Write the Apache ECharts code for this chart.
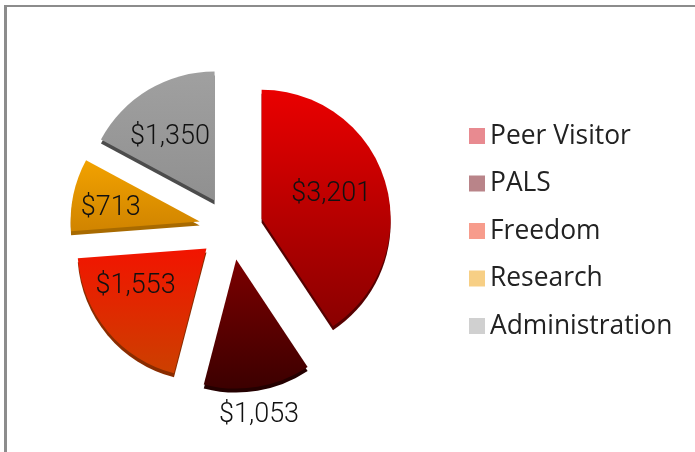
<!DOCTYPE html>
<html><head><meta charset="utf-8">
<style>html,body{margin:0;padding:0;background:#fff}#c{width:695px;height:452px}</style>
<script src="https://cdn.jsdelivr.net/npm/echarts@6/dist/echarts.min.js"></script>
</head><body><div id="c"></div>
<script>
const categories = ['Peer Visitor','PALS','Freedom','Research','Administration'];
const values = [3201,1053,1553,713,1350];
const labels = ['$3,201','$1,053','$1,553','$713','$1,350'];

const topColors = [['#ea0000','#8a0000'],['#7c0000','#3c0000'],['#f21400','#cc4000'],['#f2a200','#d08400'],['#a0a0a0','#909090']];
const sideColors = ['#560000','#240000','#8a2c00','#a86a00','#4c4c4c'];
const legendColors = ['#e88a90','#b98489','#f79c8c','#f7cf85','#d0d0d0'];
const labelShift = [[5,-5],[-76,14],[-19,-6],[-23,1],[-10,-5]];

const grad = c => ({type:'linear',x:0,y:0,x2:0,y2:1,colorStops:[{offset:0,color:c[0]},{offset:1,color:c[1]}]});
const base = {type:'pie',radius:[0,129],startAngle:90,clockwise:true,selectedMode:'multiple',selectedOffset:32,
  avoidLabelOverlap:false,animation:false,labelLine:{show:false},emphasis:{scale:false}};
const chart = echarts.init(document.getElementById('c'),null,{renderer:'canvas'});
chart.setOption({
  backgroundColor:'#fff',
  animation:false,
  graphic:[
    {type:'rect',shape:{x:4,y:5,width:3,height:447},style:{fill:'#8c8c8c'},silent:true},
    {type:'rect',shape:{x:4,y:5,width:691,height:2},style:{fill:'#8c8c8c'},silent:true}
  ],
  legend:{
    orient:'vertical',left:464,top:118,icon:'rect',itemWidth:16,itemHeight:16,itemGap:21.5,
    textStyle:{fontFamily:'Open Sans',fontSize:26.4,color:'#222'},
    data:categories.map((n,i)=>({name:n,itemStyle:{color:legendColors[i]}}))
  },
  series:[
    Object.assign({},base,{
      z:3,center:[231,228],
      data:categories.map((n,i)=>({name:n,value:values[i],selected:true,itemStyle:{color:grad(topColors[i])},
        label:{position:i===1?'outside':'inside'}})),
      label:{show:true,position:'inside',formatter:p=>labels[p.dataIndex],fontFamily:'Roboto',fontWeight:300,fontSize:27,color:'#111'},
      labelLayout:p=>({dx:labelShift[p.dataIndex][0],dy:labelShift[p.dataIndex][1]})
    }),
    Object.assign({},base,{
      z:2,center:[231,232],silent:true,legendHoverLink:false,
      data:categories.map((n,i)=>({name:n,value:values[i],selected:true,itemStyle:{color:sideColors[i]}})),
      label:{show:false}
    })
  ]
});
</script></body></html>
